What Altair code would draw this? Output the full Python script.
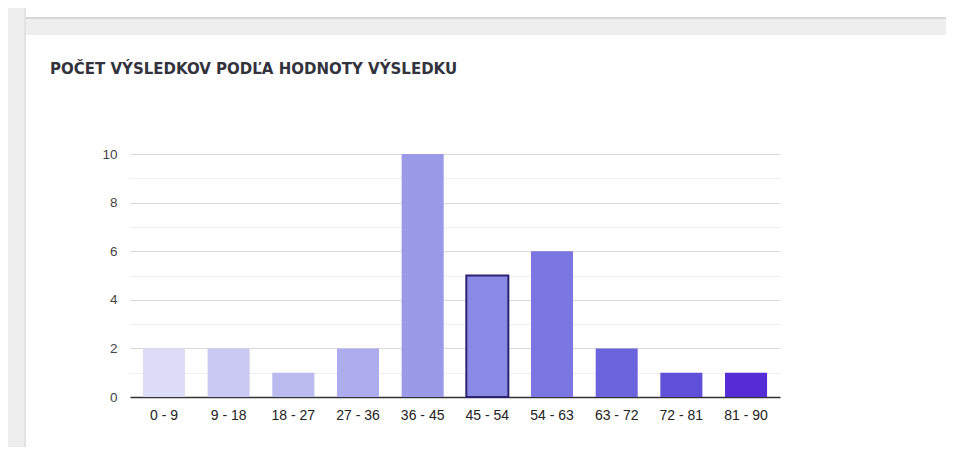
import altair as alt
import pandas as pd

title_text = "POČET VÝSLEDKOV PODĽA HODNOTY VÝSLEDKU"
categories = ["0 - 9", "9 - 18", "18 - 27", "27 - 36", "36 - 45",
              "45 - 54", "54 - 63", "63 - 72", "72 - 81", "81 - 90"]
counts = [2, 2, 1, 2, 10, 5, 6, 2, 1, 1]
bar_colors = ["#dcdcf8", "#c9c9f3", "#babaef", "#acacee", "#9a9ae8",
              "#8a8ae6", "#7b76e1", "#6c64dd", "#6050d9", "#552cd5"]
highlighted = "45 - 54"
y_ticks = [0, 1, 2, 3, 4, 5, 6, 7, 8, 9, 10]

df = pd.DataFrame({"kat": categories, "n": counts, "c": bar_colors})
one = pd.DataFrame({"a": [0]})

left_strip = alt.Chart(one).mark_rect(color="#eeeeee").encode(
    x=alt.value(-122), x2=alt.value(-104), y=alt.value(-160), y2=alt.value(300))
top_strip = alt.Chart(one).mark_rect(color="#eeeeee").encode(
    x=alt.value(-104), x2=alt.value(820), y=alt.value(-137), y2=alt.value(-119))
top_shadow = alt.Chart(one).mark_rule(color="#d6d6d6", strokeWidth=2).encode(
    x=alt.value(-104), x2=alt.value(820), y=alt.value(-136))
left_shadow = alt.Chart(one).mark_rule(color="#e2e2e2", strokeWidth=2).encode(
    x=alt.value(-105), y=alt.value(-160), y2=alt.value(300))

title = alt.Chart(one).mark_text(
    align="left", baseline="alphabetic", font="DejaVu Sans",
    fontWeight="bold", fontSize=15, color="#33333d"
).encode(x=alt.value(-80), y=alt.value(-80), text=alt.value(title_text))

is_hi = f"datum.kat === '{highlighted}'"

bars = alt.Chart(df).mark_bar().encode(
    x=alt.X("kat:N", sort=categories, title=None,
            scale=alt.Scale(paddingInner=0.35, paddingOuter=0.2),
            axis=alt.Axis(labelAngle=0, ticks=False, domainColor="#333333",
                          domainWidth=1.5, labelFont="Liberation Sans",
                          labelFontSize=14, labelColor="#222222",
                          labelPadding=11, grid=False)),
    y=alt.Y("n:Q", title=None,
            scale=alt.Scale(domain=[0, 10], nice=False),
            axis=alt.Axis(values=y_ticks, ticks=False, domain=False,
                          labelExpr="datum.value % 2 === 0 ? datum.label : ''",
                          gridColor=alt.condition("datum.value % 2 === 0",
                                                  alt.value("#d9d9d9"),
                                                  alt.value("#efefef")),
                          labelFont="Liberation Sans", labelFontSize=13.5,
                          labelColor="#444444", labelPadding=13)),
    color=alt.Color("c:N", scale=None),
    stroke=alt.condition(is_hi, alt.value("#2b2370"), alt.value("transparent")),
    strokeWidth=alt.condition(is_hi, alt.value(2), alt.value(0)),
)

chart = alt.layer(left_strip, top_strip, top_shadow, left_shadow, title, bars).properties(
    width=650, height=243,
    padding={"left": 122, "top": 146, "right": 166, "bottom": 50},
    autosize=alt.AutoSizeParams(type="none"),
    background="white",
).configure_view(stroke=None)

chart.save("out.html", embed_options={"renderer": "svg", "actions": False})
